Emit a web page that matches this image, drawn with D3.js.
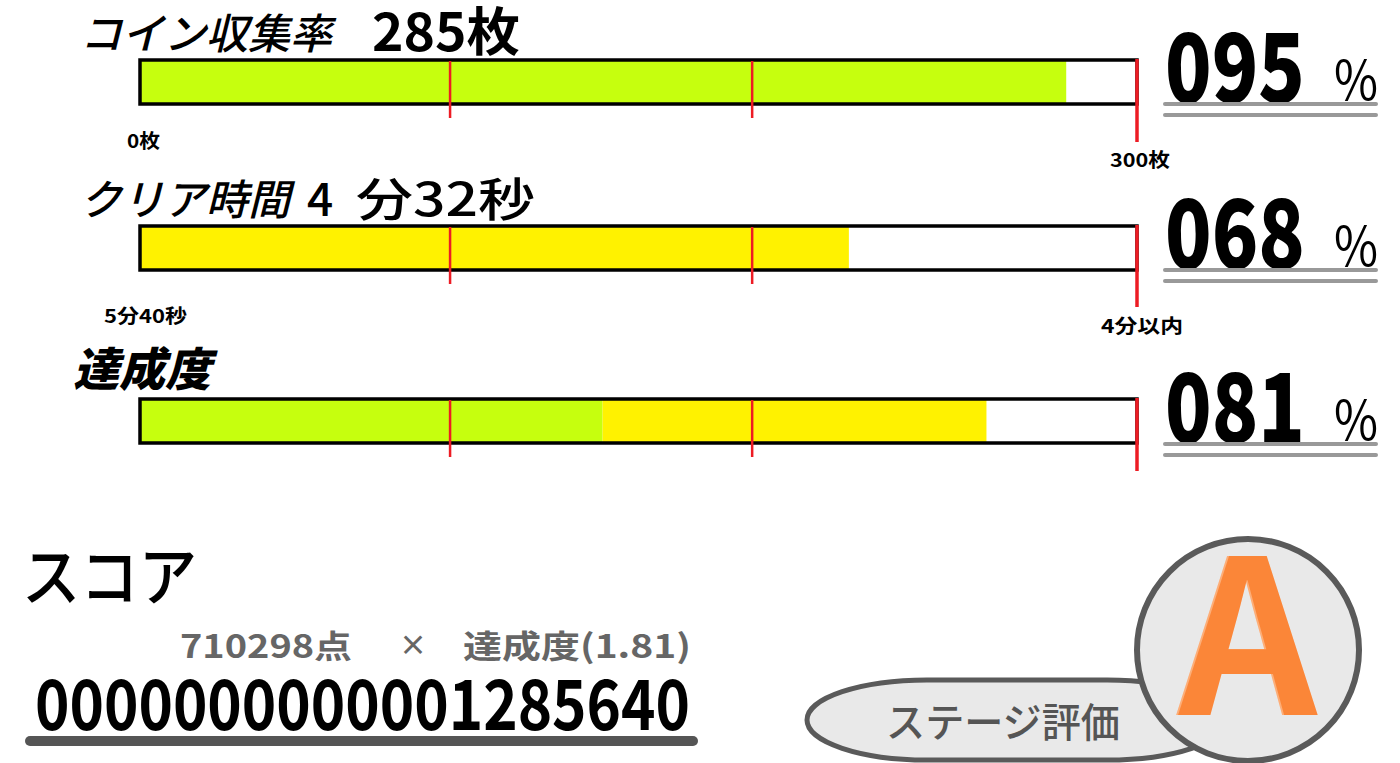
<!DOCTYPE html>
<html><head><meta charset="utf-8">
<script src="https://cdn.jsdelivr.net/npm/d3@7"></script>
<style>
html,body{margin:0;padding:0;background:#fff;}
svg{display:block;}
text{font-family:"Noto Sans CJK JP","Noto Sans",sans-serif;}
</style></head>
<body>
<svg id="chart" width="1400" height="763"></svg>
<script>
// ---- data ----
const rowTitles = ["コイン収集率", "クリア時間", "達成度"];
const coinValueLabel = "285枚";
const timeMinuteLabel = "4";
const timeRestLabel = "分32秒";
const greenPart = [92.9, 0, 46.4];     // % of bar length
const yellowPart = [0, 71.1, 38.5];
const tickValues = [31.1, 61.4, 100];
const minLabels = ["0枚", "5分40秒", ""];
const maxLabels = ["300枚", "4分以内", ""];
const percentLabels = ["095", "068", "081"];
const baseScore = "710298点";
const multiplierLabel = "達成度(1.81)";
const totalScore = "0000000000001285640";
const stageGrade = "A";

// ---- layout ----
const svg = d3.select("#chart");
const GREEN = "#c6ff0e", YELLOW = "#fff200", RED = "#ed1c24";
const x = d3.scaleLinear().domain([0, 100]).range([140, 1137]);
const rowTop = [60, 226, 399];
const barH = 44;
const endTickLen = [82, 81, 72];
const midTickLen = 58;

const rows = rowTitles.map((t, i) => ({
  i, title: t, g: greenPart[i], y: yellowPart[i],
  minL: minLabels[i], maxL: maxLabels[i], pct: percentLabels[i]
}));

const gRows = svg.selectAll("g.row").data(rows).join("g").attr("class", "row");

// fills
gRows.append("rect")
  .attr("x", x(0)).attr("y", d => rowTop[d.i])
  .attr("width", d => x(d.g) - x(0)).attr("height", barH)
  .attr("fill", GREEN);
gRows.append("rect")
  .attr("x", d => x(d.g)).attr("y", d => rowTop[d.i])
  .attr("width", d => x(d.g + d.y) - x(d.g)).attr("height", barH)
  .attr("fill", YELLOW);
// frame
gRows.append("rect")
  .attr("x", x(0)).attr("y", d => rowTop[d.i])
  .attr("width", x(100) - x(0)).attr("height", barH)
  .attr("fill", "none").attr("stroke", "#000").attr("stroke-width", 3.5);

// ticks
gRows.each(function(d) {
  const g = d3.select(this);
  g.selectAll("line.tk").data(tickValues).join("line").attr("class", "tk")
    .attr("x1", v => x(v)).attr("x2", v => x(v))
    .attr("y1", v => v === 100 ? rowTop[d.i] - 1 : rowTop[d.i] + 1)
    .attr("y2", v => rowTop[d.i] + (v === 100 ? endTickLen[d.i] : midTickLen))
    .attr("stroke", RED).attr("stroke-width", v => v === 100 ? 3.5 : 2.5);
});

// titles
gRows.append("text")
  .attr("x", d => d.i === 2 ? 73 : 80)
  .attr("y", d => rowTop[d.i] - (d.i === 2 ? 13 : 11))
  .attr("font-size", d => d.i === 2 ? 46 : 42)
  .attr("font-style", "italic")
  .attr("font-weight", d => d.i === 2 ? 900 : 500)
  .attr("fill", "#000")
  .text(d => d.title);

// value labels
svg.append("text").attr("x", 372).attr("y", 51).attr("font-size", 52)
  .attr("font-weight", 700).attr("textLength", 148).attr("lengthAdjust", "spacingAndGlyphs")
  .text(coinValueLabel);
svg.append("text").attr("x", 307).attr("y", 216).attr("font-size", 46)
  .attr("font-weight", 500).text(timeMinuteLabel);
svg.append("text").attr("x", 356).attr("y", 216).attr("font-size", 46)
  .attr("font-weight", 500).attr("textLength", 179).attr("lengthAdjust", "spacingAndGlyphs")
  .text(timeRestLabel);

// min/max labels
const minPos = [[127, 148], [104, 323], [0, 0]];
const maxPos = [[1110, 167], [1101, 333], [0, 0]];
const minW = [33, 83, 0], maxW = [60, 82, 0];
gRows.filter(d => d.minL).append("text").attr("x", d => minPos[d.i][0]).attr("y", d => minPos[d.i][1])
  .attr("font-size", 19).attr("font-weight", 700)
  .attr("textLength", d => minW[d.i]).attr("lengthAdjust", "spacingAndGlyphs").text(d => d.minL);
gRows.filter(d => d.maxL).append("text").attr("x", d => maxPos[d.i][0]).attr("y", d => maxPos[d.i][1])
  .attr("font-size", 19).attr("font-weight", 700)
  .attr("textLength", d => maxW[d.i]).attr("lengthAdjust", "spacingAndGlyphs").text(d => d.maxL);

// percentages
const pctBase = [103, 269, 443];
gRows.append("text").attr("x", 1165).attr("y", d => pctBase[d.i])
  .attr("font-family", "'Noto Sans', 'Open Sans', sans-serif")
  .attr("font-size", 96).attr("font-weight", 800)
  .attr("textLength", 140).attr("lengthAdjust", "spacingAndGlyphs")
  .text(d => d.pct);
gRows.append("text").attr("x", 1334).attr("y", d => pctBase[d.i] - 3)
  .attr("font-family", "'Noto Sans', sans-serif")
  .attr("font-size", 54).attr("font-weight", 400)
  .attr("textLength", 44).attr("lengthAdjust", "spacingAndGlyphs")
  .text("%");
[0, 11].forEach(off => {
  gRows.append("line").attr("x1", 1165).attr("x2", 1376)
    .attr("y1", d => pctBase[d.i] + 1 + off).attr("y2", d => pctBase[d.i] + 1 + off)
    .attr("stroke", "#999").attr("stroke-width", 4).attr("stroke-linecap", "round");
});

// ---- score ----
svg.append("text").attr("x", 22).attr("y", 600).attr("font-size", 64)
  .attr("font-weight", 500).attr("textLength", 175).attr("lengthAdjust", "spacingAndGlyphs")
  .text("スコア");
svg.append("text").attr("x", 180).attr("y", 658).attr("font-size", 32)
  .attr("font-weight", 700).attr("fill", "#666")
  .attr("textLength", 172).attr("lengthAdjust", "spacingAndGlyphs").text(baseScore);
svg.append("text").attr("x", 399).attr("y", 656).attr("font-size", 28)
  .attr("font-weight", 700).attr("fill", "#666").text("×");
svg.append("text").attr("x", 463).attr("y", 658).attr("font-size", 32)
  .attr("font-weight", 700).attr("fill", "#666")
  .attr("textLength", 228).attr("lengthAdjust", "spacingAndGlyphs").text(multiplierLabel);
svg.append("text").attr("x", 35).attr("y", 730)
  .attr("font-family", "'Noto Sans', 'Open Sans', sans-serif")
  .attr("font-size", 70).attr("font-weight", 700)
  .attr("textLength", 655).attr("lengthAdjust", "spacingAndGlyphs").text(totalScore);
svg.append("line").attr("x1", 30).attr("x2", 693).attr("y1", 741).attr("y2", 741)
  .attr("stroke", "#555").attr("stroke-width", 10).attr("stroke-linecap", "round");

// ---- stage evaluation ----
svg.append("rect").attr("x", 807).attr("y", 680).attr("width", 420).attr("height", 80)
  .attr("rx", 120).attr("ry", 40)
  .attr("fill", "#e9e9e9").attr("stroke", "#5a5a5a").attr("stroke-width", 5);
svg.append("text").attr("x", 886).attr("y", 737).attr("font-size", 40)
  .attr("font-weight", 500).attr("fill", "#555")
  .attr("textLength", 234).attr("lengthAdjust", "spacingAndGlyphs").text("ステージ評価");
svg.append("circle").attr("cx", 1248).attr("cy", 650).attr("r", 111)
  .attr("fill", "#e9e9e9").attr("stroke", "#5a5a5a").attr("stroke-width", 6);
svg.append("text").attr("x", 1246).attr("y", 715).attr("text-anchor", "middle")
  .attr("font-family", "'Liberation Sans', Arial, sans-serif")
  .attr("font-size", 215).attr("font-weight", 700).attr("fill", "#fdae78")
  .text(stageGrade);
svg.append("text").attr("x", 1248).attr("y", 715).attr("text-anchor", "middle")
  .attr("font-family", "'Liberation Sans', Arial, sans-serif")
  .attr("font-size", 215).attr("font-weight", 700).attr("fill", "#fb8638")
  .text(stageGrade);
</script>
</body></html>
